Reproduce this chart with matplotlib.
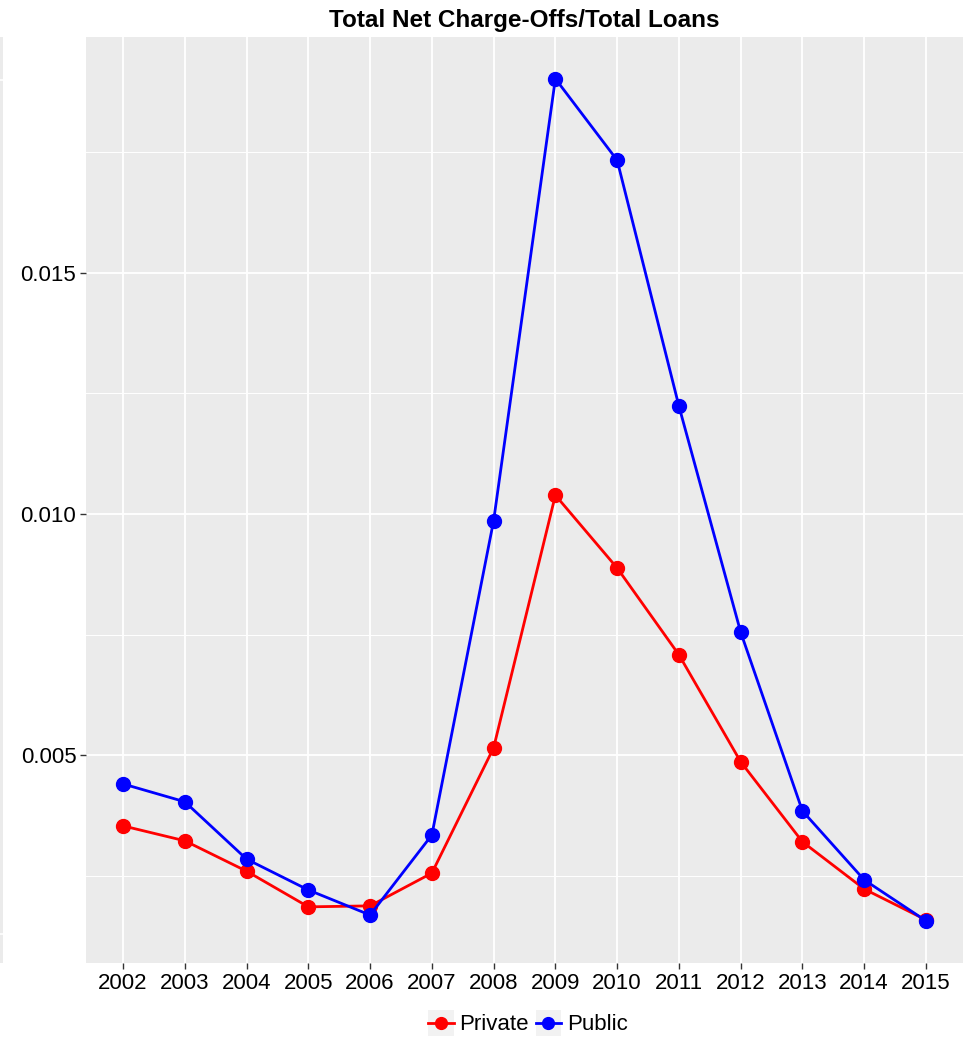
import matplotlib.pyplot as plt
import matplotlib.patches as mpatches
from matplotlib.legend_handler import HandlerLine2D

years = list(range(2002, 2016))
private = [0.00353, 0.00322, 0.00259, 0.00185, 0.00187, 0.00255, 0.00515,
           0.01039, 0.00888, 0.00708, 0.00486, 0.00320, 0.00222, 0.00158]
public = [0.00440, 0.00403, 0.00284, 0.00220, 0.00168, 0.00334, 0.00986,
          0.01903, 0.01734, 0.01224, 0.00755, 0.00384, 0.00241, 0.00156]
yticks = [0.005, 0.010, 0.015]
ytick_labels = ["0.005", "0.010", "0.015"]

plt.rcParams['font.family'] = ['Liberation Sans', 'DejaVu Sans']


# legend key with the grey ggplot box behind it
class KeyHandler(HandlerLine2D):
    def create_artists(self, legend, orig_handle, xdescent, ydescent,
                       width, height, fontsize, trans):
        pad = (width - height) / 2
        box = mpatches.Rectangle((-xdescent, -ydescent - pad), width,
                                 height + 2 * pad, facecolor='#F2F2F2',
                                 edgecolor='none', transform=trans)
        arts = super().create_artists(legend, orig_handle, xdescent, ydescent,
                                      width, height, fontsize, trans)
        return [box] + arts


fig = plt.figure(figsize=(9.77, 10.41), dpi=100)

# sliver of a neighbouring panel at the left edge
strip = fig.add_axes([0, 78 / 1041, 3 / 977, 926 / 1041])
strip.set_facecolor('#EBEBEB')
strip.set_xticks([])
strip.set_yticks([])
for s in strip.spines.values():
    s.set_visible(False)
for yy in [80, 934]:
    strip.axhline(1 - (yy - 37) / 926, color='white', lw=1.2)

ax = fig.add_axes([86 / 977, 78 / 1041, 877 / 977, 926 / 1041])
ax.set_facecolor('#EBEBEB')
for s in ax.spines.values():
    s.set_visible(False)

ax.set_xlim(2001.4, 2015.6)
ax.set_ylim(0.000685, 0.019896)

ax.set_xticks(years)
ax.set_xticklabels([str(y) for y in years], fontsize=16)
ax.set_yticks(yticks)
ax.set_yticklabels(ytick_labels, fontsize=16)
ax.set_yticks([0.0025, 0.0075, 0.0125, 0.0175], minor=True)
ax.tick_params(axis='both', which='major', length=4, width=1, color='#333333',
               pad=3)
ax.tick_params(axis='y', which='minor', length=0)
ax.grid(True, which='major', color='white', lw=1.3)
ax.grid(True, which='minor', axis='y', color='white', lw=0.7)
ax.set_axisbelow(True)

l1, = ax.plot(years, private, color='red', lw=2, marker='o', ms=10,
              label='Private')
l2, = ax.plot(years, public, color='blue', lw=2, marker='o', ms=10,
              label='Public')

ax.set_title("Total Net Charge-Offs/Total Loans", fontsize=17.5,
             fontweight='bold', pad=7)

fig.legend(handles=[l1, l2], loc='center', bbox_to_anchor=(528 / 977, 16 / 1041),
           ncol=2, frameon=False, fontsize=16, handlelength=1.15,
           handletextpad=0.25, columnspacing=0.3, markerscale=0.85,
           borderpad=0.2,
           handler_map={l1: KeyHandler(), l2: KeyHandler()})

fig.savefig('out.png', dpi=100)
